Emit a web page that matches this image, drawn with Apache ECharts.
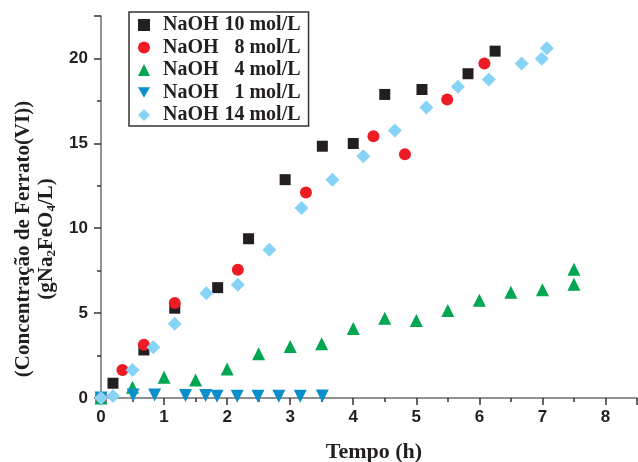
<!DOCTYPE html>
<html>
<head>
<meta charset="utf-8">
<script src="https://cdn.jsdelivr.net/npm/echarts@6/dist/echarts.min.js"></script>
<style>html,body{margin:0;padding:0;background:#fff}#c{width:638px;height:462px}</style>
</head>
<body>
<div id="c"></div>
<script>
// Data (Tempo in h, concentration in g Na2FeO4/L)
const naoh10 = [[0,0],[0.19,0.87],[0.68,2.83],[1.17,5.29],[1.85,6.5],[2.34,9.38],[2.92,12.86],[3.51,14.83],[4.0,14.99],[4.5,17.88],[5.09,18.17],[5.82,19.1],[6.25,20.43]];
const naoh8 = [[0,0],[0.34,1.65],[0.68,3.13],[1.17,5.59],[2.17,7.55],[3.25,12.11],[4.32,15.42],[4.82,14.36],[5.49,17.58],[6.08,19.7]];
const naoh4 = [[0,0],[0.5,0.63],[1.0,1.22],[1.5,1.06],[2.0,1.71],[2.5,2.6],[3.0,3.03],[3.5,3.19],[4.0,4.09],[4.5,4.7],[5.0,4.56],[5.5,5.15],[6.0,5.76],[6.5,6.23],[7.0,6.37],[7.5,6.7],[7.5,7.59]];
const naoh1 = [[0,0],[0.51,0.18],[0.85,0.18],[1.34,0.15],[1.66,0.15],[1.84,0.1],[2.16,0.1],[2.49,0.1],[2.82,0.1],[3.16,0.1],[3.51,0.12]];
const naoh14 = [[0,0],[0.19,0.12],[0.5,1.65],[0.83,2.99],[1.17,4.37],[1.67,6.17],[2.17,6.67],[2.67,8.73],[3.18,11.19],[3.67,12.86],[4.16,14.24],[4.66,15.75],[5.16,17.11],[5.66,18.33],[6.15,18.76],[6.67,19.7],[6.99,19.98],[7.07,20.6]];
const seriesNames = ['NaOH 10 mol/L','NaOH 8 mol/L','NaOH 4 mol/L','NaOH 1 mol/L','NaOH 14 mol/L'];
const xTitle = 'Tempo (h)';

const chart = echarts.init(document.getElementById('c'));
const axisColor = '#6d6e71';
const downTri = 'path://M0,0L12,0L6,10.4Z';
const labelStyle = {color:'#231f20', fontFamily:'Liberation Sans', fontWeight:'bold', fontSize:17};
function mk(name, data, symbol, size, color){
  return {name, type:'scatter', data, symbol, symbolSize:size, clip:false,
    itemStyle:{color, opacity:1}, emphasis:{disabled:true}};
}
const txt = {fontFamily:'Liberation Serif', fontWeight:'bold', fontSize:20, color:'#231f20', lineHeight:14};
chart.setOption({
  animation:false,
  grid:{left:101, right:1, top:16, bottom:64, containLabel:false, outerBoundsMode:'none'},
  legend:{
    left:129, top:12, orient:'vertical',
    padding:[3,8,1,9], itemWidth:12, itemHeight:12, itemGap:2.5,
    borderColor:'#333', borderWidth:1.5, backgroundColor:'#fff',
    data:[
      {name:seriesNames[0], icon:'rect'},
      {name:seriesNames[1], icon:'circle'},
      {name:seriesNames[2], icon:'triangle'},
      {name:seriesNames[3], icon:downTri},
      {name:seriesNames[4], icon:'diamond'}
    ],
    formatter:function(n){ const p=n.split(' '); return '{a|'+p[0]+'}{b|'+p.slice(1).join(' ')+'}'; },
    textStyle:{lineHeight:14, rich:{
      a:Object.assign({padding:[0,0,0,8]}, txt),
      b:Object.assign({width:82, align:'right'}, txt)
    }}
  },
  xAxis:{
    type:'value', min:0, max:8.5, interval:1,
    name:xTitle, nameLocation:'middle', nameGap:43,
    nameTextStyle:{fontFamily:'Liberation Serif', fontWeight:'bold', fontSize:22, color:'#231f20', padding:[0,0,0,10]},
    axisLine:{show:true, onZero:false, lineStyle:{color:axisColor, width:1.5}},
    axisTick:{show:true, inside:false, length:7, lineStyle:{color:'#333', width:1.5}},
    minorTick:{show:true, splitNumber:2, length:4, lineStyle:{color:'#333', width:1.5}},
    axisLabel:Object.assign({margin:11, showMaxLabel:false}, labelStyle),
    splitLine:{show:false}
  },
  yAxis:{
    type:'value', min:0, max:22.5, interval:5,
    name:'{t|(Concentração de Ferrato(VI))}\n{t|(gNa}{s|2}{t|FeO}{s|4}{t|/L)}',
    nameLocation:'middle', nameRotate:90, nameGap:43,
    nameTextStyle:{align:'center', padding:[0,64,0,0], rich:{
      t:{fontFamily:'Liberation Serif', fontWeight:'bold', fontSize:21, color:'#231f20', lineHeight:23},
      s:{fontFamily:'Liberation Serif', fontWeight:'bold', fontSize:13, color:'#231f20', lineHeight:12, verticalAlign:'bottom'}
    }},
    axisLine:{show:true, onZero:false, lineStyle:{color:axisColor, width:1.5}},
    axisTick:{show:true, inside:false, length:7, lineStyle:{color:'#333', width:1.5}},
    minorTick:{show:true, splitNumber:2, length:4, lineStyle:{color:'#333', width:1.5}},
    axisLabel:Object.assign({margin:13, showMaxLabel:false}, labelStyle),
    splitLine:{show:false}
  },
  series:[
    mk(seriesNames[0], naoh10, 'rect', 11, '#231f20'),
    mk(seriesNames[1], naoh8, 'circle', 12, '#ed1c24'),
    mk(seriesNames[2], naoh4, 'triangle', 13, '#00a651'),
    mk(seriesNames[3], naoh1, downTri, 13, '#0a8fcb'),
    mk(seriesNames[4], naoh14, 'diamond', 14, '#87d3f5')
  ]
});
</script>
</body>
</html>
